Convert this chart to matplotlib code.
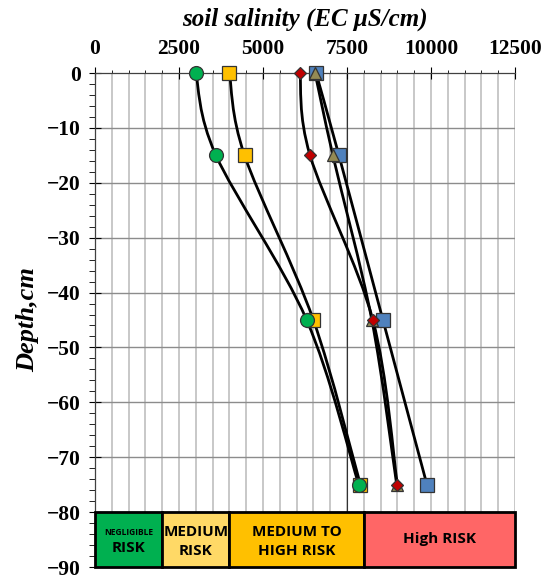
import numpy as np
import matplotlib
matplotlib.use('Agg')
import matplotlib.pyplot as plt
from matplotlib.path import Path
from matplotlib.patches import PathPatch, Rectangle

depth = [0, -15, -45, -75]

# EC profiles (uS/cm) for each sampling point
ec_circle = [3000, 3600, 6300, 7850]
ec_square_y = [4000, 4450, 6500, 7900]
ec_diamond = [6100, 6400, 8270, 9000]
ec_triangle = [6550, 7080, 8240, 8980]
ec_square_b = [6580, 7260, 8570, 9880]

risk_edges = [0, 2000, 4000, 8000, 12500]
risk_labels = ['NEGLIGIBLE\nRISK', 'MEDIUM\nRISK', 'MEDIUM TO\nHIGH RISK', 'High RISK']
risk_colors = ['#00B050', '#FFD966', '#FFC000', '#FF6666']

serif = 'Liberation Serif'
sans = 'Open Sans'


def smooth_path(xs, ys):
    # Catmull-Rom style cubic bezier through the points
    pts = np.column_stack([xs, ys]).astype(float)
    n = len(pts)
    verts = [pts[0]]
    codes = [Path.MOVETO]
    for i in range(n - 1):
        p0 = pts[i - 1] if i > 0 else pts[i]
        p1 = pts[i]
        p2 = pts[i + 1]
        p3 = pts[i + 2] if i + 2 < n else pts[i + 1]
        c1 = p1 + (p2 - p0) / 6.0
        c2 = p2 - (p3 - p1) / 6.0
        verts += [c1, c2, p2]
        codes += [Path.CURVE4] * 3
    return Path(verts, codes)


fig = plt.figure(figsize=(5.45, 5.78), dpi=100)
ax = fig.add_axes([0.1743, 0.019, 0.7706, 0.8547])

ax.set_xlim(0, 12500)
ax.set_ylim(-90, 0)

# grid
for xv in np.arange(500, 12501, 500):
    ax.axvline(xv, color='#c8c8c8', lw=1.4, zorder=0)
for yv in np.arange(-80, 0, 10):
    ax.axhline(yv, color='#8c8c8c', lw=1.0, zorder=0)
ax.axvline(7500, color='#333333', lw=0.8, zorder=0.5)

# drawing order: later entries sit on top
series = [
    (ec_square_b, 's', '#4F81BD', 9.5),
    (ec_triangle, '^', '#948A54', 9),
    (ec_diamond, 'D', '#C00000', 6.5),
    (ec_square_y, 's', '#FFC000', 9.5),
    (ec_circle, 'o', '#00B050', 10),
]
for xs, mk, col, ms in series:
    ax.add_patch(PathPatch(smooth_path(xs, depth), facecolor='none',
                           edgecolor='black', lw=2.0, zorder=2))
for xs, mk, col, ms in series:
    ax.plot(xs, depth, linestyle='none', marker=mk, markersize=ms, clip_on=False,
            markerfacecolor=col, markeredgecolor='#333333', markeredgewidth=0.9, zorder=3)

# risk class boxes
for i, lab in enumerate(risk_labels):
    x0, x1 = risk_edges[i], risk_edges[i + 1]
    xc = (x0 + x1) / 2
    ax.add_patch(Rectangle((x0, -90), x1 - x0, 10, facecolor=risk_colors[i],
                           edgecolor='black', lw=2.0, zorder=4, clip_on=False))
    if i == 0:
        ax.text(xc, -83.7, 'NEGLIGIBLE', ha='center', va='center',
                fontsize=6, fontweight='bold', family=sans, zorder=5)
        ax.text(xc, -86.6, 'RISK', ha='center', va='center',
                fontsize=11, fontweight='bold', family=sans, zorder=5)
    elif i == 3:
        ax.text(xc, -84.9, lab, ha='center', va='center',
                fontsize=11, fontweight='bold', family=sans, zorder=5)
    else:
        ax.text(xc, -85.3, lab, ha='center', va='center', linespacing=1.45,
                fontsize=11, fontweight='bold', family=sans, zorder=5)

# axes styling
ax.xaxis.tick_top()
ax.xaxis.set_label_position('top')
ax.set_xticks(np.arange(0, 12501, 2500))
ax.set_xticks(np.arange(0, 12501, 500), minor=True)
ax.set_yticks(np.arange(-90, 1, 10))
ax.set_yticks(np.arange(-90, 1, 2), minor=True)
ax.tick_params(axis='x', which='major', direction='inout', length=8, width=0.8,
               pad=6, labelsize=15.5)
ax.tick_params(axis='x', which='minor', direction='out', length=2.5, width=0.6)
ax.tick_params(axis='y', which='major', direction='inout', length=8, width=0.8,
               pad=6, labelsize=15.5)
ax.tick_params(axis='y', which='minor', direction='out', length=4, width=0.6)
for lbl in ax.get_xticklabels() + ax.get_yticklabels():
    lbl.set_family(serif)
    lbl.set_fontweight('bold')

for s in ['right', 'bottom']:
    ax.spines[s].set_visible(False)
for s in ['left', 'top']:
    ax.spines[s].set_color('#404040')
    ax.spines[s].set_linewidth(0.9)

ax.set_xlabel('soil salinity (EC μS/cm)', family=serif, fontweight='bold',
              style='italic', fontsize=18, labelpad=10)
ax.set_ylabel('Depth,cm', family=serif, fontweight='bold', style='italic',
              fontsize=19, labelpad=6)

fig.savefig('out.png', dpi=100)
